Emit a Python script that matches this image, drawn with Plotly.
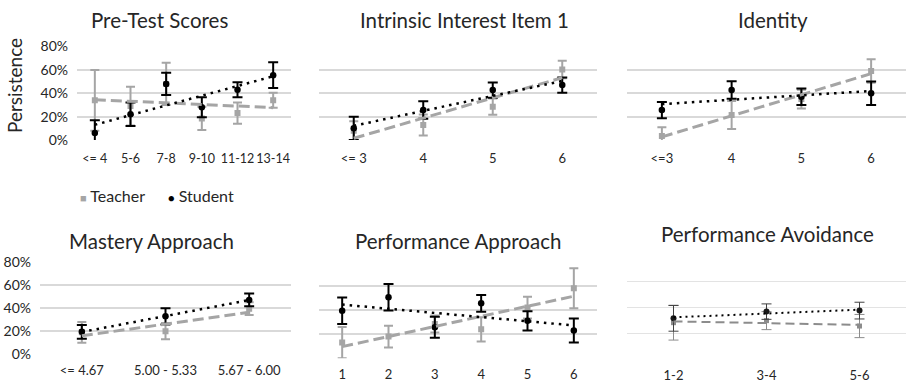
import numpy as np
import plotly.graph_objects as go

# ---------------- data (percent persistence) ----------------
pretest_cats = ["<= 4", "5-6", "7-8", "9-10", "11-12", "13-14"]
pretest_teacher = [34, 29, 48, 18.5, 23, 34]
pretest_teacher_err = [26, 16.5, 18, 10, 9, 6.5]
pretest_student = [6, 22, 48, 28, 43, 55.5]
pretest_student_err = [11, 10, 9.5, 8.5, 6.5, 11]

interest_cats = ["<= 3", "4", "5", "6"]
interest_teacher = [8, 12.8, 28.5, 60.4]
interest_teacher_err = [8, 9, 7, 7.5]
interest_student = [10, 25.6, 42.7, 47]
interest_student_err = [10, 7.5, 6.5, 6.5]

identity_cats = ["<=3", "4", "5", "6"]
identity_teacher = [3.4, 21.4, 35, 59]
identity_teacher_err = [7.5, 12, 8, 10]
identity_student = [25.6, 42.7, 37, 40]
identity_student_err = [7, 7.5, 7, 10]

mastery_cats = ["<= 4.67", "5.00 - 5.33", "5.67 - 6.00"]
mastery_teacher = [19, 20, 39.4]
mastery_teacher_err = [9, 7, 5.5]
mastery_student = [19.4, 32.8, 47]
mastery_student_err = [6, 7, 5.5]

perfapp_cats = ["1", "2", "3", "4", "5", "6"]
perfapp_teacher = [13, 18, 28.4, 24, 42, 58]
perfapp_teacher_err = [13, 9, 7, 10, 9, 16.5]
perfapp_student = [39.4, 50.5, 25.7, 45.5, 31, 23]
perfapp_student_err = [11, 11, 8.7, 7, 8, 10]

perfavoid_cats = ["1-2", "3-4", "5-6"]
perfavoid_teacher = [28.2, 29.8, 25.6]
perfavoid_teacher_err = [13.5, 7, 9]
perfavoid_student = [31.6, 36.8, 37.6]
perfavoid_student_err = [10, 6, 6.5]

titles = ["Pre-Test Scores", "Intrinsic Interest Item 1", "Identity",
          "Mastery Approach", "Performance Approach", "Performance Avoidance"]
y_ticks = [0, 20, 40, 60, 80]
y_ticktext = ["0%", "20%", "40%", "60%", "80%"]
series_names = ["Teacher", "Student"]

# ---------------- layout helpers ----------------
W, H = 906, 382
FONT = "Lato"
TXT = "#262626"
TEACHER = "#A5A5A5"
STUDENT = "#000000"
GRID = "#D9D9D9"

# pixel boxes: x0, x1, y(80%), y(0%)
boxes = [
    (77, 291, 46.5, 140),
    (319, 597, 46.5, 140),
    (627, 906, 46.5, 140),
    (40, 291, 261.7, 354.3),
    (319, 597, 261.7, 358.3),
    (627, 906, 256, 359),
]
title_pos = [(159, 19.5), (465, 20), (773, 20), (151, 241), (458, 241), (767, 234)]

panels = [
    (pretest_cats, pretest_teacher, pretest_teacher_err, pretest_student, pretest_student_err),
    (interest_cats, interest_teacher, interest_teacher_err, interest_student, interest_student_err),
    (identity_cats, identity_teacher, identity_teacher_err, identity_student, identity_student_err),
    (mastery_cats, mastery_teacher, mastery_teacher_err, mastery_student, mastery_student_err),
    (perfapp_cats, perfapp_teacher, perfapp_teacher_err, perfapp_student, perfapp_student_err),
    (perfavoid_cats, perfavoid_teacher, perfavoid_teacher_err, perfavoid_student, perfavoid_student_err),
]

fig = go.Figure()
annotations = []

for i, (cats, t, te, s, se) in enumerate(panels):
    k = "" if i == 0 else str(i + 1)
    xa, ya = "x" + k, "y" + k
    thin = (i == 5)
    idx = np.arange(len(cats))

    # data points with error bars
    fig.add_trace(go.Scatter(
        x=cats, y=t, xaxis=xa, yaxis=ya, mode="markers", name=series_names[0],
        showlegend=False,
        marker=dict(symbol="square", size=5 if thin else 6, color="#8C8C8C" if thin else TEACHER),
        error_y=dict(type="data", array=te, visible=True,
                     color="#8C8C8C" if thin else TEACHER,
                     thickness=1 if thin else 2, width=5 if thin else 4.5),
    ))
    fig.add_trace(go.Scatter(
        x=cats, y=s, xaxis=xa, yaxis=ya, mode="markers", name=series_names[1],
        showlegend=False,
        marker=dict(symbol="circle", size=6 if thin else 6.5, color="#1A1A1A" if thin else STUDENT),
        error_y=dict(type="data", array=se, visible=True,
                     color="#404040" if thin else STUDENT,
                     thickness=1 if thin else 2, width=5),
    ))

    # linear trendlines (least squares on category index)
    ft = np.polyfit(idx, t, 1)
    fs = np.polyfit(idx, s, 1)
    ends = np.array([idx[0], idx[-1]])
    fig.add_trace(go.Scatter(
        x=[cats[0], cats[-1]], y=np.polyval(ft, ends), xaxis=xa, yaxis=ya,
        mode="lines", showlegend=False, hoverinfo="skip",
        line=dict(color="#8C8C8C" if thin else TEACHER, width=2 if thin else 3,
                  dash="9px,5px" if thin else "11px,5px"),
    ))
    fig.add_trace(go.Scatter(
        x=[cats[0], cats[-1]], y=np.polyval(fs, ends), xaxis=xa, yaxis=ya,
        mode="lines", showlegend=False, hoverinfo="skip",
        line=dict(color=STUDENT, width=2 if thin else 2.5,
                  dash="2px,4px" if thin else "2.5px,5px"),
    ))

    x0, x1, ytop, ybot = boxes[i]
    show_y = i in (0, 3)
    fig.update_layout(**{
        "xaxis" + k: dict(
            domain=[x0 / W, x1 / W], anchor=ya, type="category",
            categoryorder="array", categoryarray=cats,
            range=[-0.5, len(cats) - 0.5], showgrid=False, zeroline=False,
            showline=False, ticks="", tickangle=0, automargin=False,
            ticklabelstandoff=9 if i < 3 else 7,
            tickfont=dict(family=FONT, size=12.5 if i == 0 else 13, color=TXT),
            fixedrange=True,
        ),
        "yaxis" + k: dict(
            domain=[1 - ybot / H, 1 - ytop / H], anchor=xa,
            range=[0, 80], tickvals=y_ticks, ticktext=y_ticktext,
            showgrid=True, gridcolor="#E3E3E3" if thin else GRID,
            gridwidth=1 if thin else 1.6, automargin=False,
            zeroline=False, showline=False, ticks="",
            showticklabels=show_y, ticklabelstandoff=8,
            tickfont=dict(family=FONT, size=14, color=TXT),
            fixedrange=True,
        ),
    })

    tx, ty = title_pos[i]
    annotations.append(dict(
        text=titles[i], x=tx / W, y=1 - ty / H, xref="paper", yref="paper",
        xanchor="center", yanchor="middle", showarrow=False,
        font=dict(family=FONT, size=20.5, color=TXT),
    ))

# y-axis title
annotations.append(dict(
    text="Persistence", x=15 / W, y=1 - 86 / H, xref="paper", yref="paper",
    xanchor="center", yanchor="middle", showarrow=False, textangle=-90,
    font=dict(family=FONT, size=19, color=TXT),
))

# legend (below first panel)
annotations.append(dict(
    text='<span style="color:#A5A5A5;font-size:11px">■</span> ' + series_names[0],
    x=78 / W, y=1 - 195 / H, xref="paper", yref="paper",
    xanchor="left", yanchor="middle", showarrow=False,
    font=dict(family=FONT, size=16, color=TXT),
))
annotations.append(dict(
    text='<span style="color:#000000;font-size:11px">●</span> ' + series_names[1],
    x=166 / W, y=1 - 195 / H, xref="paper", yref="paper",
    xanchor="left", yanchor="middle", showarrow=False,
    font=dict(family=FONT, size=16, color=TXT),
))

fig.update_layout(
    width=W, height=H, margin=dict(l=0, r=0, t=0, b=0, autoexpand=False),
    paper_bgcolor="white", plot_bgcolor="white",
    showlegend=False, annotations=annotations,
    font=dict(family=FONT, color=TXT),
)

fig.write_html(
    "out.html",
    config={"displayModeBar": False},
    post_script="document.body.style.margin='0';document.body.style.overflow='hidden';",
)
